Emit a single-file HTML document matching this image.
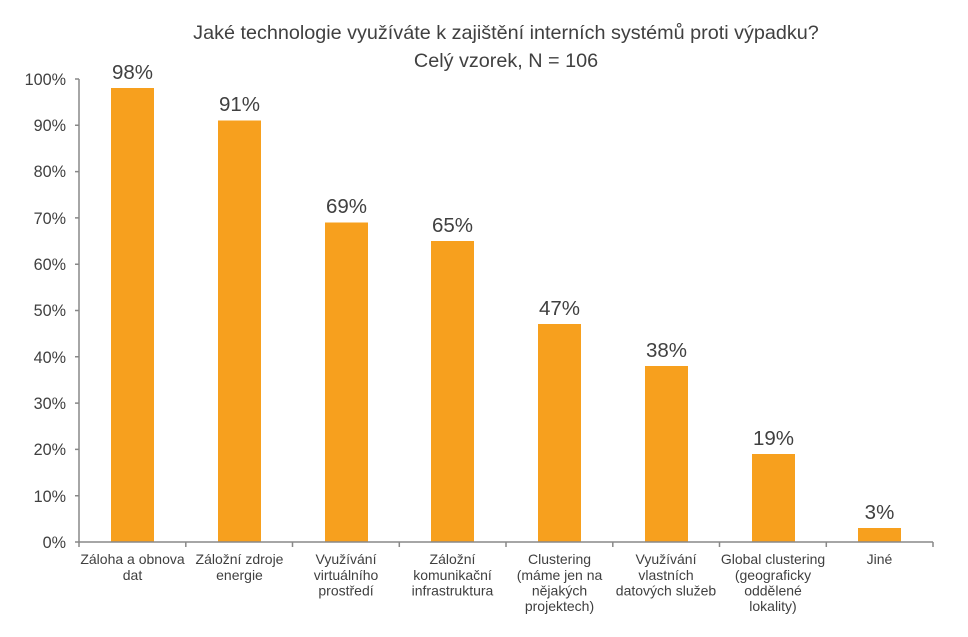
<!DOCTYPE html>
<html><head><meta charset="utf-8"><style>
html,body{margin:0;padding:0;background:#fff;}
svg{display:block;font-family:"Liberation Sans",Arial,sans-serif;}
</style></head><body>
<svg width="968" height="637" viewBox="0 0 968 637" xmlns="http://www.w3.org/2000/svg">
<g fill="#404040" font-size="19.8" text-anchor="middle">
<text x="506" y="39">Jaké technologie využíváte k zajištění interních systémů proti výpadku?</text>
<text x="506" y="67">Celý vzorek, N = 106</text>
</g>
<g fill="#404040" font-size="16.2" text-anchor="end">
<text x="66" y="548">0%</text>
<text x="66" y="502">10%</text>
<text x="66" y="455">20%</text>
<text x="66" y="409">30%</text>
<text x="66" y="363">40%</text>
<text x="66" y="316">50%</text>
<text x="66" y="270">60%</text>
<text x="66" y="224">70%</text>
<text x="66" y="177">80%</text>
<text x="66" y="131">90%</text>
<text x="66" y="85">100%</text>
</g>
<g fill="#F7A01E">
<rect x="111" y="88" width="43" height="454"/>
<rect x="218" y="120.5" width="43" height="421.5"/>
<rect x="325" y="222.5" width="43" height="319.5"/>
<rect x="431" y="241" width="43" height="301"/>
<rect x="538" y="324" width="43" height="218"/>
<rect x="645" y="366" width="43" height="176"/>
<rect x="752" y="454" width="43" height="88"/>
<rect x="858" y="528" width="43" height="14"/>
</g>
<g fill="#404040" font-size="20.5" text-anchor="middle">
<text x="132.5" y="79">98%</text>
<text x="239.5" y="111">91%</text>
<text x="346.5" y="213">69%</text>
<text x="452.5" y="232">65%</text>
<text x="559.5" y="315">47%</text>
<text x="666.5" y="357">38%</text>
<text x="773.5" y="445">19%</text>
<text x="879.5" y="519">3%</text>
</g>
<g stroke="#888" stroke-width="1.5" fill="none">
<path d="M79 79 V542 H933"/>
<path d="M75 542H79M75 495.7H79M75 449.4H79M75 403.1H79M75 356.8H79M75 310.5H79M75 264.2H79M75 217.9H79M75 171.6H79M75 125.3H79M75 79H79"/>
<path d="M79 542V547M185.8 542V547M292.5 542V547M399.3 542V547M506 542V547M612.8 542V547M719.5 542V547M826.3 542V547M933 542V547"/>
</g>
<g fill="#404040" font-size="14" text-anchor="middle">
<text x="132.5" y="564">Záloha a obnova</text><text x="132.5" y="580">dat</text>
<text x="239.5" y="564">Záložní zdroje</text><text x="239.5" y="580">energie</text>
<text x="346" y="564">Využívání</text><text x="346" y="580">virtuálního</text><text x="346" y="595.5">prostředí</text>
<text x="452.5" y="564">Záložní</text><text x="452.5" y="580">komunikační</text><text x="452.5" y="595.5">infrastruktura</text>
<text x="559.5" y="564">Clustering</text><text x="559.5" y="580">(máme jen na</text><text x="559.5" y="595.5">nějakých</text><text x="559.5" y="611">projektech)</text>
<text x="666" y="564">Využívání</text><text x="666" y="580">vlastních</text><text x="666" y="595.5">datových služeb</text>
<text x="773" y="564">Global clustering</text><text x="773" y="580">(geograficky</text><text x="773" y="595.5">oddělené</text><text x="773" y="611">lokality)</text>
<text x="879.5" y="564">Jiné</text>
</g>
</svg>
</body></html>
